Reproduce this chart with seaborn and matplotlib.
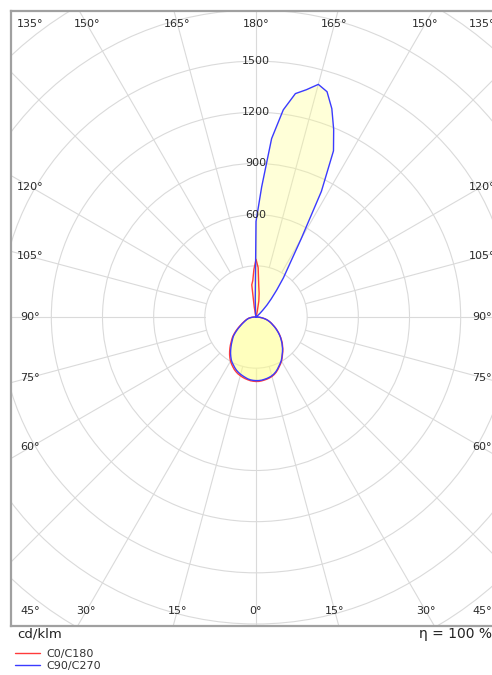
import numpy as np
import matplotlib
matplotlib.use("Agg")
import matplotlib.pyplot as plt
from matplotlib.patches import Circle
import seaborn as sns

# gamma angles in degrees: 0 = straight down, 180 = straight up
gamma = np.linspace(0, 180, 73)

# luminous intensity in cd/klm, one list per C half-plane (gamma 0 .. 180, step 2.5)
c0 = [378, 378, 376, 373, 370, 366, 361, 354, 345, 334,
      322, 311, 299, 285, 271, 258, 245, 231, 218, 204,
      190, 176, 162, 148, 135, 122, 110, 99, 89, 79,
      69, 58, 46, 34, 23, 13, 6,
      3, 1] + [0] * 25 + [3, 6, 10, 35, 95, 140, 185, 290, 338]
c180 = [378, 377, 375, 371, 367, 362, 356, 350, 342, 333,
        322, 311, 299, 285, 270, 254, 238, 222, 206, 192,
        178, 161, 145, 129, 114, 101, 90, 80, 72, 65,
        58, 51, 45, 36, 27, 18, 10,
        5, 2] + [0] * 27 + [5, 15, 60, 190, 215, 280, 338]
c90 = [373, 373, 372, 369, 366, 362, 357, 350, 341, 330,
       318, 307, 296, 282, 268, 255, 242, 228, 215, 201,
       188, 174, 160, 146, 133, 120, 108, 98, 88, 78,
       68, 57, 45, 33, 22, 12, 5,
       2, 1] + [0] * 9 + [1, 2, 4, 8, 15, 30, 55, 95, 140, 200,
                          280, 365, 530, 830, 1075, 1190, 1300, 1385, 1412, 1365,
                          1330, 1225, 1050, 764, 560]
c270 = [373, 372, 370, 366, 360, 354, 348, 341, 333, 323,
        312, 302, 290, 275, 260, 244, 228, 213, 198, 185,
        172, 155, 138, 123, 108, 96, 85, 76, 68, 61,
        55, 49, 43, 34, 25, 16, 8,
        4, 2] + [0] * 28 + [8, 12, 20, 40, 100, 560]

ring_values = [600, 900, 1200, 1500]
angle_labels = [0, 15, 30, 45, 60, 75, 90, 105, 120, 135, 150, 165, 180]
series = [("C0/C180", c0, c180, "#ff3b3b"), ("C90/C270", c90, c270, "#3b3bff")]

# pixel geometry of the reference
W, H = 492, 675
cx, cy = 256, 317
s = 307 / 1800  # px per cd/klm

sns.set_style("white")
fig = plt.figure(figsize=(W / 100, H / 100), dpi=100)
ax = fig.add_axes([11 / W, (H - 626) / H, 490 / W, 615 / H])
ax.set_xlim((11 - cx) / s, (501 - cx) / s)
ax.set_ylim((cy - 626) / s, (cy - 11) / s)
ax.set_xticks([])
ax.set_yticks([])
for sp in ax.spines.values():
    sp.set_color("#a0a0a0")
    sp.set_linewidth(1.6)

grid_col = "#dadada"
for r in range(300, 2701, 300):
    ax.add_patch(Circle((0, 0), r, fill=False, ec=grid_col, lw=0.8, zorder=1))
for a in range(0, 360, 15):
    t = np.radians(a)
    ax.plot([300 * np.sin(t), 3000 * np.sin(t)], [-300 * np.cos(t), -3000 * np.cos(t)],
            color=grid_col, lw=0.8, zorder=1)

handles = []
for name, right, left, col in series:
    g = np.radians(gamma)
    r_ = np.asarray(right, dtype=float)
    l_ = np.asarray(left, dtype=float)[::-1]
    xs = np.concatenate([r_ * np.sin(g), -l_ * np.sin(g[::-1])])
    ys = np.concatenate([-r_ * np.cos(g), -l_ * np.cos(g[::-1])])
    ax.fill(xs, ys, color="#ffff88", alpha=0.32, lw=0, zorder=2)
    sns.lineplot(x=xs, y=ys, sort=False, estimator=None, color=col, lw=1.0, ax=ax, zorder=3)
    handles.append(ax.get_lines()[-1])

txt_col = "#2a2a2a"
for v in ring_values:
    ax.text(0, v, str(v), ha="center", va="center", fontsize=8, color=txt_col, zorder=4)

# angle labels along the frame
top, bot, side = 293 / s, 294 / s, 226 / s
for a in angle_labels:
    t = np.radians(a)
    for sign in ([1] if a in (0, 180) else [1, -1]):
        if a <= 45:
            x, y = min(bot * np.tan(t), side), -bot
        elif a >= 135:
            x, y = min(top * np.tan(np.pi - t), side), top
        else:
            x, y = side, -side * np.cos(t) / np.sin(t)
        ax.text(sign * x, y, f"{a}°", ha="center", va="center", fontsize=8,
                color=txt_col, zorder=4, clip_on=False)

fig.text(17 / W, 1 - 634 / H, "cd/klm", fontsize=9.5, color="#222222", va="center")
fig.text(419 / W, 1 - 634 / H, "η = 100 %", fontsize=10, color="#222222", va="center")
fig.legend(handles, [n for n, *_ in series], loc="upper left",
           bbox_to_anchor=(15 / W, 1 - 649 / H), frameon=False, fontsize=8,
           borderpad=0, borderaxespad=0, handlelength=2.25, handletextpad=0.55,
           labelspacing=0.2, labelcolor="#333333")

fig.savefig("out.png", dpi=100)
